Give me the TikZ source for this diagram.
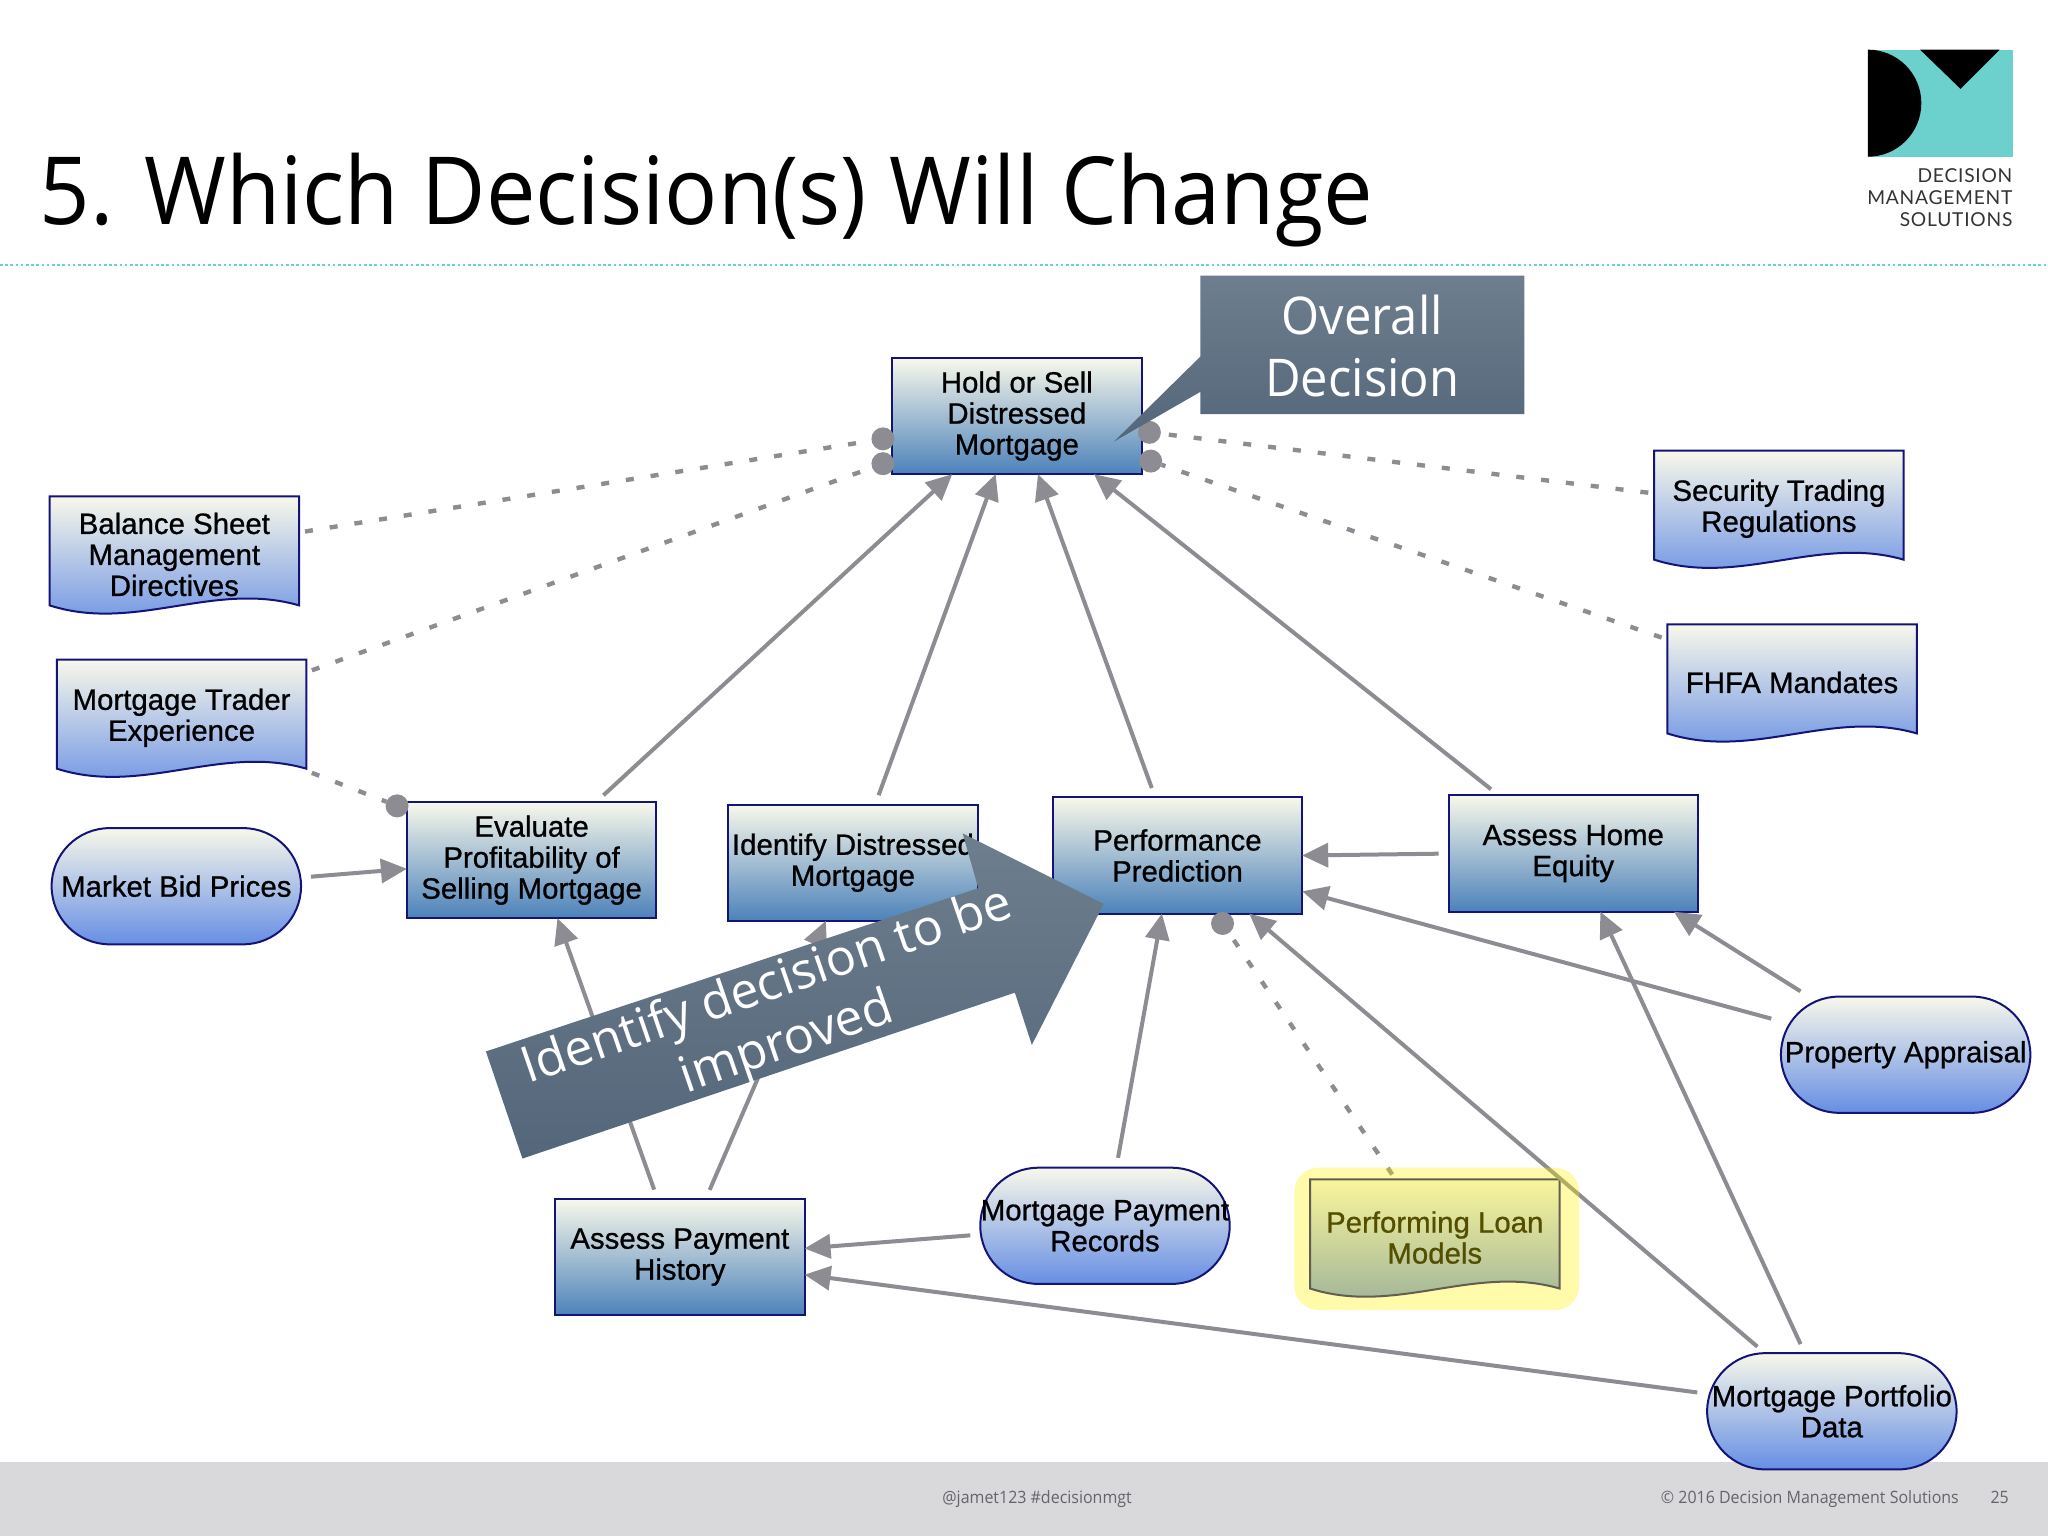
\documentclass[tikz,border=0pt]{standalone}
\usepackage{fontspec}
\usepackage{tikz}
\usetikzlibrary{arrows.meta}
\setmainfont{Open Sans}
\newfontfamily\slidefont[FakeStretch=0.94]{Open Sans}
\newfontfamily\boxfont[FakeBold=0.8]{Liberation Sans}
\newfontfamily\logofont[LetterSpace=4]{Lato}
\definecolor{box_navy}{RGB}{20,20,120}
\definecolor{box_top}{RGB}{248,248,234}
\definecolor{decision_bot}{RGB}{76,130,186}
\definecolor{data_bot}{RGB}{102,142,228}
\definecolor{wire_gray}{RGB}{140,140,146}
\definecolor{slate_top}{RGB}{110,126,142}
\definecolor{slate_bot}{RGB}{84,102,122}
\definecolor{logo_teal}{RGB}{108,208,204}
\definecolor{footer_gray}{RGB}{217,217,219}
\definecolor{footer_text}{RGB}{100,100,108}
\tikzset{
	boxbase/.style={minimum width=124.7pt,minimum height=58.1pt,inner sep=0pt,outer sep=0pt,align=center,
		font=\boxfont\fontsize{14.7}{15.5}\selectfont},
	decisionbox/.style={boxbase,draw=box_navy,line width=1pt,top color=box_top,bottom color=decision_bot},
	databox/.style={boxbase,draw=box_navy,line width=1pt,rounded corners=29pt,top color=box_top,bottom color=data_bot},
	docshape/.style={draw=box_navy,line width=1pt,top color=box_top,bottom color=data_bot},
	conn/.style={draw=wire_gray,line width=2pt,shorten <=5pt,-{Triangle[length=13pt,width=12pt]}},
	dashconn/.style={draw=wire_gray,line width=2.2pt,shorten <=3pt,dash pattern=on 4pt off 8.5pt},
	reqdot/.style={circle,fill=wire_gray,minimum size=11.5pt,inner sep=0pt,outer sep=0pt},
	slatetext/.style={text=white,align=center},
	foottext/.style={inner sep=0pt,text=footer_text,font=\slidefont\fontsize{8.5}{10}\selectfont}
}
\begin{document}
\begin{tikzpicture}[x=0.65306pt,y=-0.65306pt]
	\useasboundingbox (0,0) rectangle (1568,1176);

	% slide frame
	\fill[footer_gray] (0,1119) rectangle (1568,1176);
	\draw[logo_teal,line width=1.3pt,dash pattern=on 1.3pt off 1.3pt] (0,203) -- (1568,203);
	\node[anchor=base west,inner sep=0pt,font=\slidefont\fontsize{47}{50}\selectfont] (title) at (30,172) {5. Which Decision(s) Will Change};
	\node[foottext,anchor=base] (tag) at (794,1151) {@jamet123 \#decisionmgt};
	\node[foottext,anchor=base east] (copy) at (1500,1151) {© 2016 Decision Management Solutions};
	\node[foottext,anchor=base] (page) at (1531,1151) {25};

	% logo
	\fill[logo_teal] (1430,38) rectangle (1541,120);
	\fill[black] (1430,38) arc[start angle=-90,end angle=90,x radius=41,y radius=41] -- cycle;
	\fill[black] (1470,38) -- (1531,38) -- (1501,68) -- cycle;
	\node[anchor=north east,inner sep=0pt,align=right,text=black!80,font=\logofont\fontsize{9.6}{11}\selectfont] (logotext) at (1541,129) {DECISION\\MANAGEMENT\\SOLUTIONS};

	% decisions
	\node[decisionbox] (hold) at (778.5,318.5) {Hold or Sell\\Distressed\\Mortgage};
	\node[decisionbox] (evalprofit) at (407,658.5) {Evaluate\\Profitability of\\Selling Mortgage};
	\node[decisionbox] (identify) at (653,660.5) {Identify Distressed\\Mortgage};
	\node[decisionbox] (perf) at (901.5,655) {Performance\\Prediction};
	\node[decisionbox] (equity) at (1204.5,653.5) {Assess Home\\Equity};
	\node[decisionbox] (assess) at (520.5,962.5) {Assess Payment\\History};

	% input data
	\node[databox] (market) at (135,678.5) {Market Bid Prices};
	\node[databox] (appraisal) at (1459,807.5) {Property Appraisal};
	\node[databox] (records) at (846,938.5) {Mortgage Payment\\Records};
	\node[databox] (portfolio) at (1402.5,1080.5) {Mortgage Portfolio\\Data};

	% knowledge sources
	\foreach \name/\x/\y/\txt in {balance/133.5/424.5/{Balance Sheet\\Management\\Directives},
		trader/139/549.5/{Mortgage Trader\\Experience},
		security/1362/389.5/{Security Trading\\Regulations},
		fhfa/1372/522.5/{FHFA Mandates},
		models/1098.5/947.5/{Performing Loan\\Models}} {
		\shadedraw[docshape,shift={(\x,\y)}] (-95.5,-44.5) -- (95.5,-44.5) -- (95.5,39)
			.. controls (30,20) and (-30,60) .. (-95.5,39) -- cycle;
		\node[boxbase] (\name) at (\x,\y) {\txt};
	}

	% requirement dots
	\node[reqdot] (dot1) at (676,336) {};
	\node[reqdot] (dot2) at (676,355) {};
	\node[reqdot] (dot3) at (880,331) {};
	\node[reqdot] (dot4) at (881,353) {};
	\node[reqdot] (dot5) at (304,617) {};
	\node[reqdot] (dot6) at (936,707) {};

	\foreach \x/\y in {balance.10/dot1,trader.20/dot2,security.173/dot3,fhfa.161/dot4,trader.337/dot5,models.124/dot6}
		\draw[dashconn] (\x) -- (\y);

	\foreach \x/\y in {evalprofit.42/hold.222,identify.69/hold.250,perf.111/hold.290,equity.142/hold.323,
		market.4/evalprofit.184,assess.111/evalprofit.294,assess.66/identify.245,equity.180/perf.0,
		appraisal.165/perf.344,records.79/perf.255,portfolio.139/perf.321,appraisal.149/equity.330,
		portfolio.115/equity.295,records.184/assess.4,portfolio.172/assess.352}
		\draw[conn] (\x) -- (\y);

	% highlight on the changed model
	\fill[yellow,opacity=0.33,rounded corners=12pt] (991,894) rectangle (1209,1003);

	% callout
	\shade[top color=slate_top,bottom color=slate_bot] (919,211) -- (1167,211) -- (1167,317) -- (919,317)
		-- (919,300) -- (853,338) -- (919,273) -- cycle;
	\node[slatetext,font=\slidefont\fontsize{26}{31}\selectfont] (overall) at (1043,265) {Overall\\Decision};

	% banner
	\shade[top color=slate_top,bottom color=slate_bot] (372,805) -- (749,680) -- (737,638) -- (845,692)
		-- (790,800) -- (777,760) -- (400,887) -- cycle;
	\node[slatetext,rotate=19,font=\fontsize{25}{30}\selectfont] (improve) at (595,778) {Identify decision to be\\improved};
\end{tikzpicture}
\end{document}
